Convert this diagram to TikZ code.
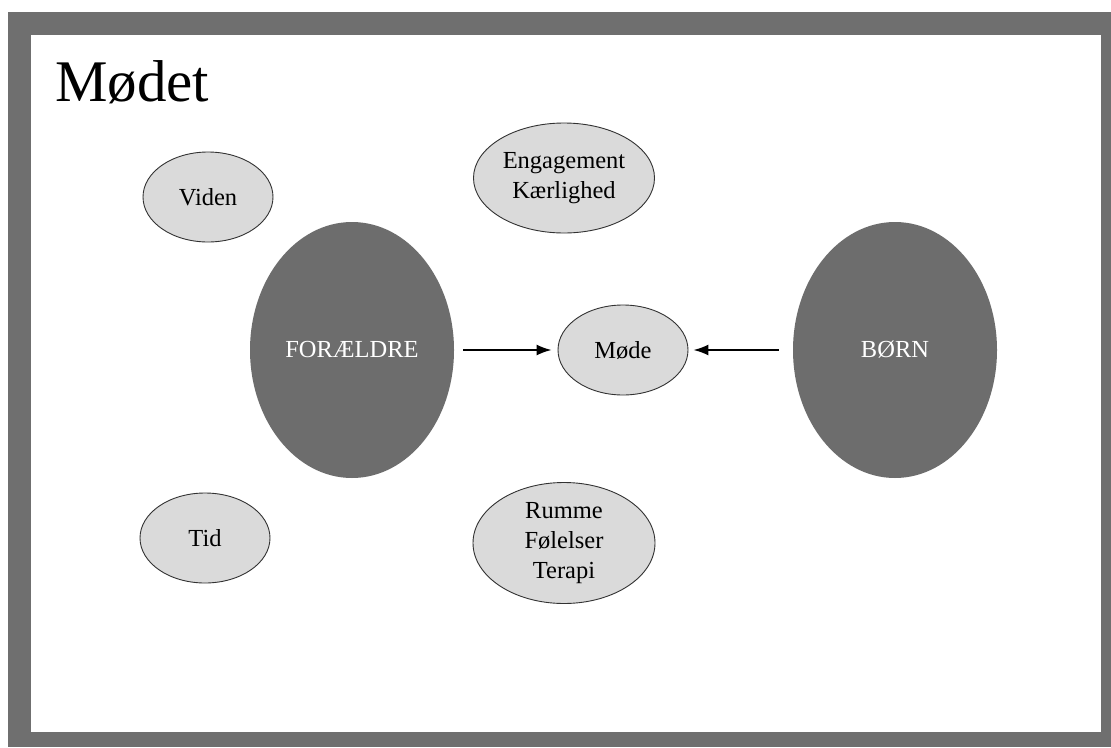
\documentclass[tikz,border=0pt]{standalone}
\usepackage{fontspec}
\setmainfont{Liberation Serif}
\usetikzlibrary{shapes.geometric,arrows.meta}
\definecolor{framegray}{RGB}{111,111,111}
\definecolor{darkfill}{RGB}{109,109,109}
\definecolor{lightfill}{RGB}{218,218,218}
\definecolor{edgegray}{RGB}{50,50,50}
\tikzset{
  smallell/.style={ellipse, draw=edgegray, line width=0.9pt, fill=lightfill, inner sep=0pt,
    align=center, font=\fontsize{24.5}{30}\selectfont},
  bigell/.style={ellipse, fill=darkfill, draw=none, inner sep=0pt,
    minimum width=204pt, minimum height=256pt, text=white, font=\fontsize{24.5}{30}\selectfont},
  conn/.style={line width=1.7pt, -{Latex[length=15pt,width=11pt]}}
}
\begin{document}
\begin{tikzpicture}[x=1pt,y=-1pt]
\useasboundingbox (0,0) rectangle (1111,747);
\fill[framegray] (8,12) rectangle (1111,747);
\fill[white] (31,35) rectangle (1101,732);
\node[anchor=base west, inner sep=0pt, font=\fontsize{59}{59}\selectfont] (title) at (55,101) {Mødet};
\node[smallell, minimum width=130pt, minimum height=90pt] (viden) at (208,197) {Viden};
\node[smallell, minimum width=181pt, minimum height=110pt] (eng) at (564,178) {Engagement\\Kærlighed};
\node[bigell] (for) at (352,350) {FORÆLDRE};
\node[smallell, minimum width=130pt, minimum height=90pt] (mode) at (623,350) {Møde};
\node[bigell] (born) at (895,350) {BØRN};
\node[smallell, minimum width=130pt, minimum height=90pt] (tid) at (205,538) {Tid};
\node[smallell, minimum width=182pt, minimum height=121pt] (rum) at (564,543) {Rumme\\Følelser\\Terapi};
\draw[conn] ([xshift=9pt]for.east) -- ([xshift=-6pt]mode.west);
\draw[conn] ([xshift=-14pt]born.west) -- ([xshift=5pt]mode.east);
\end{tikzpicture}
\end{document}
